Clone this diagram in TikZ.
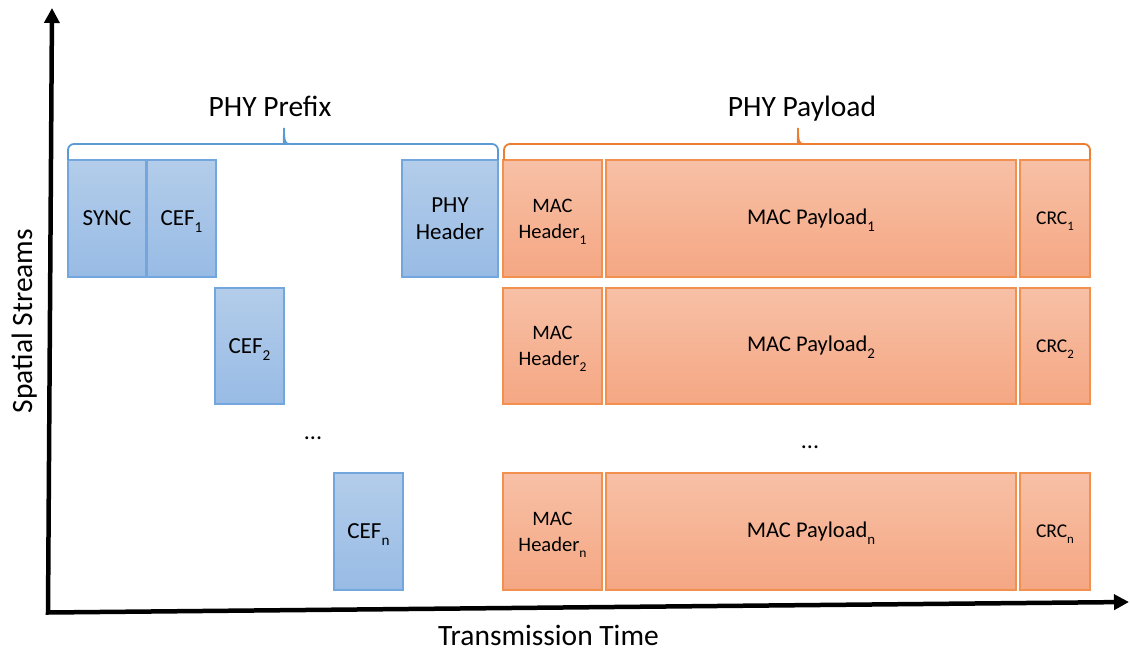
\documentclass[tikz,border=0pt]{standalone}
\usepackage{fontspec}
\setmainfont{Carlito}
\usetikzlibrary{arrows.meta}
\definecolor{bluetop}{HTML}{B3CDEA}
\definecolor{bluebot}{HTML}{98BBE5}
\definecolor{blueedge}{HTML}{74A6DE}
\definecolor{ortop}{HTML}{F7C0A6}
\definecolor{orbot}{HTML}{F5A783}
\definecolor{oredge}{HTML}{F2904F}
\definecolor{braceblue}{HTML}{5B9BD5}
\definecolor{braceor}{HTML}{ED7D31}
\newcommand{\lowsub}[1]{\raisebox{-0.3em}[0pt][0pt]{\scalebox{0.66}{#1}}}
\begin{document}
\begin{tikzpicture}[x=1pt,y=-1pt,
  boxbase/.style={line width=1.4pt, inner sep=0pt, outer sep=0pt, align=center},
  bluebox/.style={boxbase, draw=blueedge, top color=bluetop, bottom color=bluebot,
    font=\fontsize{23}{27}\selectfont},
  orbox/.style={boxbase, draw=oredge, top color=ortop, bottom color=orbot},
  smalltext/.style={font=\fontsize{20.5}{26}\selectfont},
  midtext/.style={font=\fontsize{22.5}{27}\selectfont},
  crctext/.style={font=\fontsize{19.5}{24}\selectfont},
  bigtext/.style={font=\fontsize{29.5}{34}\selectfont},
  dotstext/.style={font=\fontsize{24}{27}\selectfont, anchor=base},
  axis/.style={line width=4.5pt, line join=miter, {Triangle[length=15pt,width=15pt]}-{Triangle[length=15pt,width=15pt]}},
  bracestyle/.style={line width=1.8pt}
]
\useasboundingbox (0,0) rectangle (1130,652);

% axes
\coordinate (ytop) at (52,8);
\coordinate (origin) at (48,612.5);
\coordinate (xend) at (1129,602);
\draw[axis] (ytop) -- (origin) -- (xend);

% row 1
\node[bluebox, minimum width=78pt, minimum height=117pt] (sync) at (107,218.5) {SYNC};
\node[bluebox, minimum width=69pt, minimum height=117pt] (cef1) at (181.5,218.5) {CEF\lowsub{1}};
\node[bluebox, minimum width=96pt, minimum height=117pt] (phyh) at (450,218.5) {PHY\\Header};
\node[orbox, smalltext, minimum width=99pt, minimum height=117pt] (mach1) at (552.5,218.5) {MAC\\Header\lowsub{1}};
\node[orbox, midtext, minimum width=410pt, minimum height=117pt] (macp1) at (811,218.5) {MAC Payload\lowsub{1}};
\node[orbox, crctext, minimum width=70pt, minimum height=117pt] (crc1) at (1055,218.5) {CRC\lowsub{1}};

% row 2
\node[bluebox, minimum width=69pt, minimum height=116pt] (cef2) at (249.5,346) {CEF\lowsub{2}};
\node[orbox, smalltext, minimum width=99pt, minimum height=116pt] (mach2) at (552.5,346) {MAC\\Header\lowsub{2}};
\node[orbox, midtext, minimum width=410pt, minimum height=116pt] (macp2) at (811,346) {MAC Payload\lowsub{2}};
\node[orbox, crctext, minimum width=70pt, minimum height=116pt] (crc2) at (1055,346) {CRC\lowsub{2}};

% row n
\node[bluebox, minimum width=69pt, minimum height=117pt] (cefn) at (368.5,531.5) {CEF\lowsub{n}};
\node[orbox, smalltext, minimum width=99pt, minimum height=117pt] (machn) at (552.5,531.5) {MAC\\Header\lowsub{n}};
\node[orbox, midtext, minimum width=410pt, minimum height=117pt] (macpn) at (811,531.5) {MAC Payload\lowsub{n}};
\node[orbox, crctext, minimum width=70pt, minimum height=117pt] (crcn) at (1055,531.5) {CRC\lowsub{n}};

% dots
\node[dotstext] (dotsl) at (313,439) {...};
\node[dotstext] (dotsr) at (810,448) {...};

% braces
\draw[bracestyle, braceblue] (68,160) {[rounded corners=6pt] -- (68,144) -- (279,144)}
  .. controls (283,144) and (284,141) .. (284,128)
  .. controls (284,141) and (285,144) .. (289,144)
  {[rounded corners=6pt] -- (498,144) -- (498,160)};
\draw[bracestyle, braceor] (504,160) {[rounded corners=6pt] -- (504,144) -- (793,144)}
  .. controls (797,144) and (798,141) .. (798,128)
  .. controls (798,141) and (799,144) .. (803,144)
  {[rounded corners=6pt] -- (1090,144) -- (1090,160)};

% labels
\node[bigtext, anchor=base] (prefix) at (270,117) {PHY Prefix};
\node[bigtext, anchor=base] (payload) at (802,117) {PHY Payload};
\node[bigtext, anchor=base] (xlabel) at (548.5,645) {Transmission Time};
\node[bigtext, anchor=base, rotate=90] (ylabel) at (32,321) {Spatial Streams};
\end{tikzpicture}
\end{document}
